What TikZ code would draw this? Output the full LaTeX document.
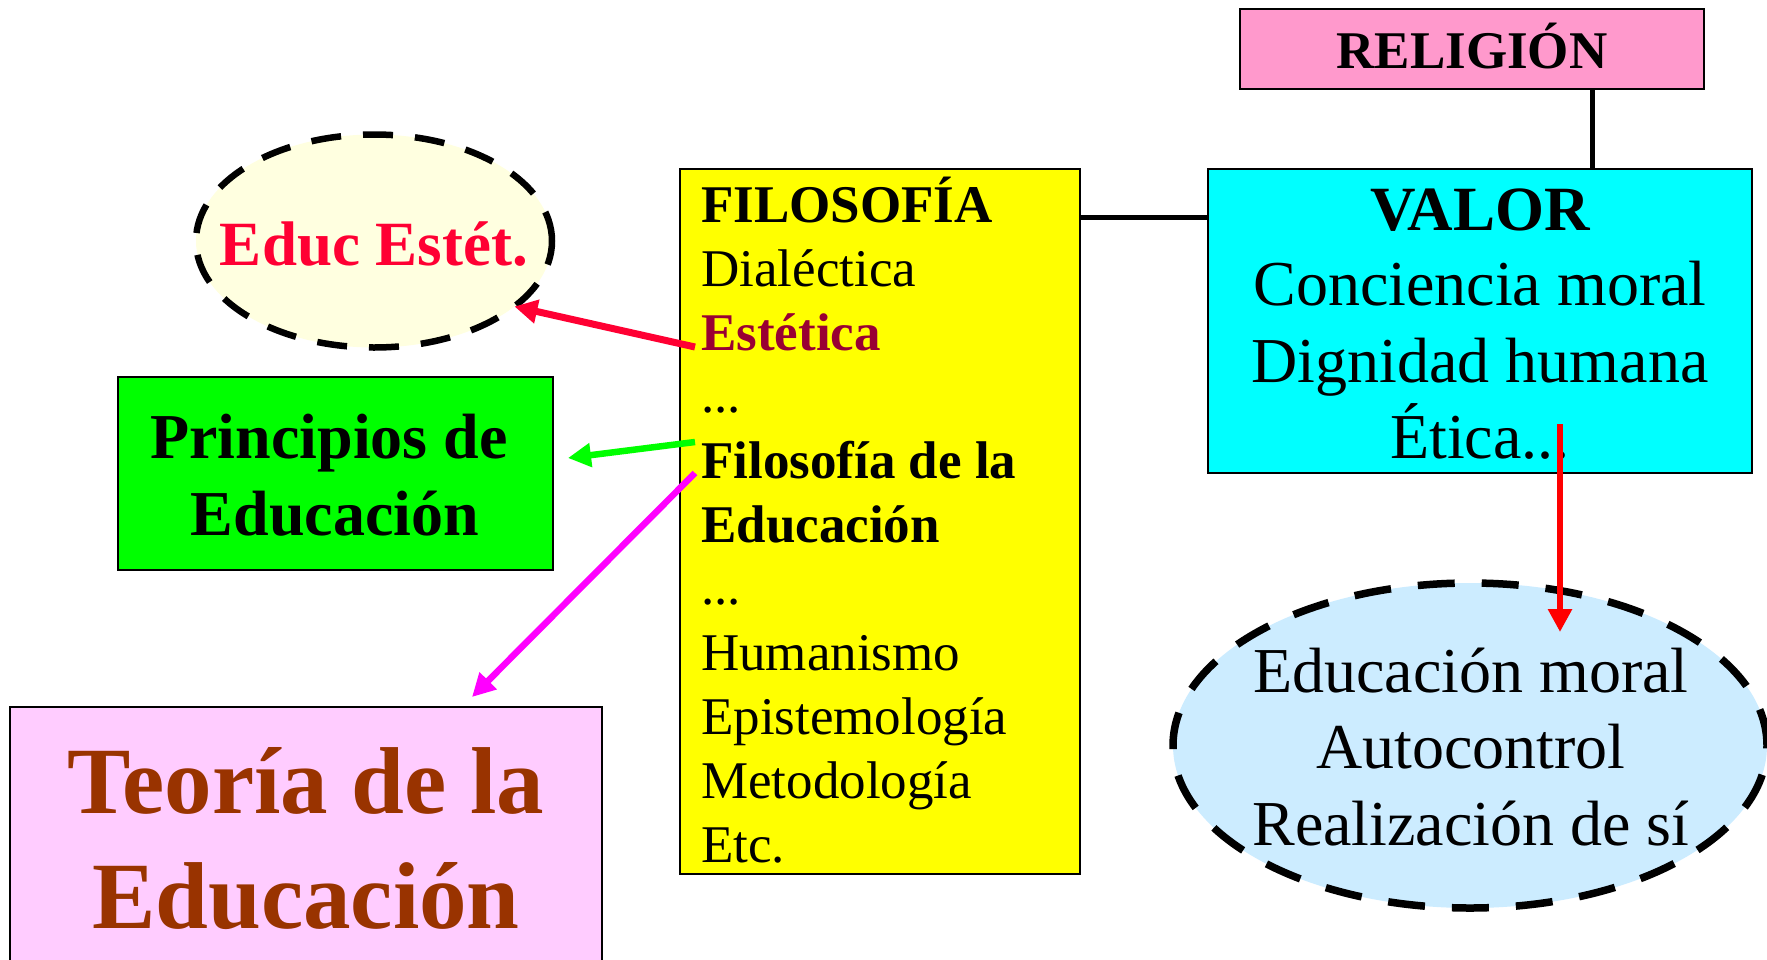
\documentclass[tikz,border=0pt]{standalone}
\usepackage{fontspec}
\setmainfont{Liberation Serif}
\usetikzlibrary{arrows.meta,shapes.geometric}
\definecolor{relpink}{HTML}{FF99CC}
\definecolor{valcyan}{HTML}{00FFFF}
\definecolor{filyellow}{HTML}{FFFF00}
\definecolor{cream}{HTML}{FFFFE0}
\definecolor{pgreen}{HTML}{00FF00}
\definecolor{teopink}{HTML}{FFCCFF}
\definecolor{lblue}{HTML}{CCECFF}
\definecolor{estred}{HTML}{FF0033}
\definecolor{estdark}{HTML}{990033}
\definecolor{teobrown}{HTML}{993300}
\definecolor{agreen}{HTML}{00FF00}
\definecolor{amag}{HTML}{FF00FF}
\definecolor{ared}{HTML}{FF0000}
\begin{document}
\begin{tikzpicture}[x=1pt,y=-1pt,
  txt/.style={inner sep=0pt, anchor=base},
  ltxt/.style={inner sep=0pt, anchor=base west, font=\fontsize{53}{64}\selectfont},
  boxshape/.style={draw=black, line width=2.5pt, rectangle, inner sep=0pt},
  dashell/.style={draw=black, ellipse, inner sep=0pt, outer sep=0pt},
  link/.style={draw=black, line width=5pt},
  arr/.style={line width=6.5pt, -{Triangle[length=23pt,width=23pt]}}]
\useasboundingbox (0,0) rectangle (1767,959);
\clip (0,0) rectangle (1767,959);
\fill[white] (0,0) rectangle (1767,959);
% boxes
\node[boxshape, fill=relpink, minimum width=464pt, minimum height=80pt] (rel) at (1472,49) {};
\node[boxshape, fill=valcyan, minimum width=544pt, minimum height=304pt] (val) at (1480,321) {};
\node[boxshape, fill=filyellow, minimum width=400pt, minimum height=705pt] (fil) at (880,521.5) {};
\node[boxshape, fill=pgreen, minimum width=435pt, minimum height=193pt] (prin) at (335.5,473.5) {};
\node[boxshape, fill=teopink, minimum width=592pt, minimum height=320pt] (teo) at (306,867) {};
\node[dashell, fill=cream, line width=6.5pt, dash pattern=on 30pt off 22pt, minimum width=356pt, minimum height=213pt] (educ) at (374,241) {};
\node[dashell, fill=lblue, line width=7.5pt, dash pattern=on 37pt off 27pt, minimum width=594pt, minimum height=325pt] (moral) at (1470,745.5) {};
% connectors
\draw[link] (rel.south -| 1592,0) -- (val.north -| 1592,0);
\draw[link] (fil.east |- 0,217) -- (val.west |- 0,217);
% texts
\node[txt, font=\bfseries\fontsize{53}{64}\selectfont] (reltx) at (1472,68) {RELIGIÓN};
\node[txt, font=\bfseries\fontsize{63}{76}\selectfont] (valtx) at (1480,230) {VALOR};
\node[txt, font=\fontsize{64}{76}\selectfont] (v1) at (1480,305) {Conciencia moral};
\node[txt, font=\fontsize{64}{76}\selectfont] (v2) at (1480,382) {Dignidad humana};
\node[txt, font=\fontsize{64}{76}\selectfont] (v3) at (1480,458) {Ética...};
\node[ltxt, font=\bfseries\fontsize{53}{64}\selectfont] (f0) at (701,222) {FILOSOFÍA};
\node[ltxt] (f1) at (701,286) {Dialéctica};
\node[ltxt, font=\bfseries\fontsize{53}{64}\selectfont, text=estdark] (f2) at (701,350) {Estética};
\node[ltxt] (f3) at (701,412) {...};
\node[ltxt, font=\bfseries\fontsize{53}{64}\selectfont] (f4) at (701,478) {Filosofía de la};
\node[ltxt, font=\bfseries\fontsize{53}{64}\selectfont] (f5) at (701,542) {Educación};
\node[ltxt] (f6) at (701,604) {...};
\node[ltxt] (f7) at (701,670) {Humanismo};
\node[ltxt] (f8) at (701,734) {Epistemología};
\node[ltxt] (f9) at (701,798) {Metodología};
\node[ltxt] (f10) at (701,862) {Etc.};
\node[txt, font=\bfseries\fontsize{63}{76}\selectfont, text=estred] (educt) at (374,265) {Educ Estét.};
\node[txt, font=\bfseries\fontsize{64}{76}\selectfont] (p1) at (329,458) {Principios de};
\node[txt, font=\bfseries\fontsize{64}{76}\selectfont] (p2) at (335,535) {Educación};
\node[txt, font=\bfseries\fontsize{95}{114}\selectfont, text=teobrown] (t1) at (306,813) {Teoría de la};
\node[txt, font=\bfseries\fontsize{95}{114}\selectfont, text=teobrown] (t2) at (306,928) {Educación};
\node[txt, font=\fontsize{64}{76}\selectfont] (m1) at (1471,692) {Educación moral};
\node[txt, font=\fontsize{64}{76}\selectfont] (m2) at (1471,768) {Autocontrol};
\node[txt, font=\fontsize{64}{76}\selectfont] (m3) at (1471,845) {Realización de sí};
% arrow ends
\coordinate (sEst) at (695,347);
\coordinate (sPrin) at (695,442);
\coordinate (ePrin) at (568,458);
\coordinate (sTeo) at (695,473);
\coordinate (eTeo) at (472,697);
\coordinate (sVal) at (1560,424);
\coordinate (eMor) at (1560,632);
% arrows
\draw[arr, line width=7pt, estred] (sEst) -- (educ.-25.5);
\draw[arr, agreen] (sPrin) -- (ePrin);
\draw[arr, amag] (sTeo) -- (eTeo);
\draw[arr, line width=6pt, ared] (sVal) -- (eMor);
\end{tikzpicture}
\end{document}
